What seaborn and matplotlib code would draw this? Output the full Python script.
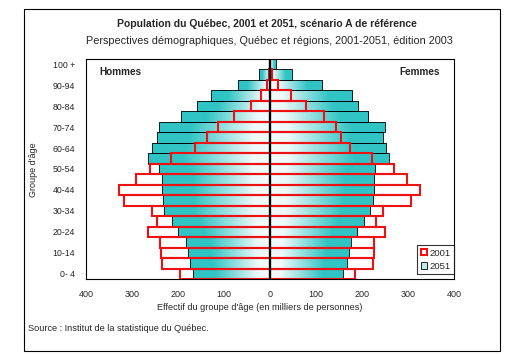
import numpy as np
import matplotlib
matplotlib.use('Agg')
import matplotlib.pyplot as plt
from matplotlib.colors import LinearSegmentedColormap
from matplotlib.patches import Patch, Rectangle
import seaborn as sns

# age groups, bottom to top
ages = ['0- 4', '5- 9', '10-14', '15-19', '20-24', '25-29', '30-34', '35-39',
        '40-44', '45-49', '50-54', '55-59', '60-64', '65-69', '70-74', '75-79',
        '80-84', '85-89', '90-94', '95-99', '100 +']

# thousands of persons
male_2001 = [196, 234, 237, 239, 266, 245, 256, 317, 328, 291, 261, 215, 162,
             138, 114, 79, 41, 20, 7, 2, 0.5]
female_2001 = [185, 224, 227, 227, 251, 231, 245, 307, 327, 298, 269, 221, 173,
               155, 144, 118, 78, 46, 18, 5, 1]
male_2051 = [167, 173, 178, 183, 199, 214, 230, 233, 235, 234, 241, 266, 257,
             246, 242, 194, 159, 129, 70, 24, 3]
female_2051 = [158, 167, 171, 176, 190, 205, 218, 225, 227, 227, 229, 258, 253,
               245, 249, 214, 192, 179, 114, 47, 13]

order = ages[::-1]  # top row first
red = '#ee1111'
teal = '#30c4c4'
grad = LinearSegmentedColormap.from_list(
    'tealgrad', [(0, '#f4fbfb'), (0.15, '#eef9f9'), (0.72, teal), (1, teal)])

sns.set_style('white')
plt.rcParams['font.family'] = ['Liberation Sans', 'DejaVu Sans']

fig = plt.figure(figsize=(5.16, 3.54), dpi=100)
ax = fig.add_axes([0.1667, 0.2119, 0.7131, 0.6215])

# 2051: gradient filled bars
for vals, sign in [(male_2051, -1), (female_2051, 1)]:
    sns.barplot(x=[sign * v for v in vals], y=ages, order=order, orient='h',
                width=1.0, color='white', ax=ax)
    for bar in ax.containers[-1]:
        x0, w = bar.get_x(), bar.get_width()
        y0, h = bar.get_y(), bar.get_height()
        left, right = min(x0, x0 + w), max(x0, x0 + w)
        xs = np.linspace(left, right, 200)
        f = np.abs(xs) / max(abs(w), 1e-9)
        im = ax.imshow(f[None, :], cmap=grad, vmin=0, vmax=1, aspect='auto',
                       extent=[left, right, y0 + h, y0], interpolation='bilinear',
                       zorder=1.5)
        im.set_clip_path(bar)
        bar.set_facecolor('none')
        bar.set_edgecolor('black')
        bar.set_linewidth(0.6)
        bar.set_zorder(2)

# 2001: red outlines
for vals, sign in [(male_2001, -1), (female_2001, 1)]:
    sns.barplot(x=[sign * v for v in vals], y=ages, order=order, orient='h',
                width=1.0, color='white', ax=ax)
    for bar in ax.containers[-1]:
        bar.set_facecolor('none')
        bar.set_edgecolor(red)
        bar.set_linewidth(1.5)
        bar.set_zorder(3)

ax.axvline(0, color='black', lw=1.6, zorder=4)

ax.set_xlim(-400, 400)
ax.set_ylim(20.5, -0.5)
ticks = np.arange(-400, 401, 100)
ax.set_xticks(ticks)
ax.set_xticklabels([str(abs(t)) for t in ticks], fontsize=6.5)
ax.set_yticks(range(len(order)))
ax.set_yticklabels([a if i % 2 == 0 else '' for i, a in enumerate(order)],
                   fontsize=6.3)
ax.tick_params(axis='x', direction='out', length=3, width=0.8, pad=5)
ax.tick_params(axis='y', length=0, pad=8)
ax.set_xlabel('')
ax.set_ylabel('')
for s in ax.spines.values():
    s.set_visible(True)
    s.set_color('black')
    s.set_linewidth(0.8)

ax.text(0.037, 0.94, 'Hommes', transform=ax.transAxes, fontsize=7.2,
        fontweight='bold', va='center', ha='left')
ax.text(0.963, 0.94, 'Femmes', transform=ax.transAxes, fontsize=7.2,
        fontweight='bold', va='center', ha='right')

handles = [Patch(facecolor='white', edgecolor=red, lw=1.5, label='2001'),
           Patch(facecolor='#bfeaea', edgecolor='black', lw=0.6, label='2051')]
leg = ax.legend(handles=handles, loc='lower right', bbox_to_anchor=(1.0, 0.022),
                fontsize=6.8, handlelength=0.65, handleheight=0.65,
                handletextpad=0.3, borderpad=0.35, labelspacing=0.45,
                frameon=True, fancybox=False, borderaxespad=0)
leg.get_frame().set_edgecolor('black')
leg.get_frame().set_linewidth(0.8)

fig.text(0.518, 0.932, 'Population du Québec, 2001 et 2051, scénario A de référence',
         ha='center', va='center', fontsize=7.5, fontweight='bold')
fig.text(0.522, 0.884, 'Perspectives démographiques, Québec et régions, 2001-2051, édition 2003',
         ha='center', va='center', fontsize=7.8)
fig.text(0.064, 0.52, "Groupe d'âge", rotation=90, ha='center', va='center',
         fontsize=6.5)
fig.text(0.503, 0.132, "Effectif du groupe d'âge (en milliers de personnes)",
         ha='center', va='center', fontsize=6.6)
fig.text(0.054, 0.071, 'Source : Institut de la statistique du Québec.',
         ha='left', va='center', fontsize=6.6)

fig.add_artist(Rectangle((24 / 516, 1 - 351 / 354), 476 / 516, 342 / 354,
                         transform=fig.transFigure, fill=False,
                         edgecolor='black', lw=0.8))

fig.savefig('out.png', dpi=100)
